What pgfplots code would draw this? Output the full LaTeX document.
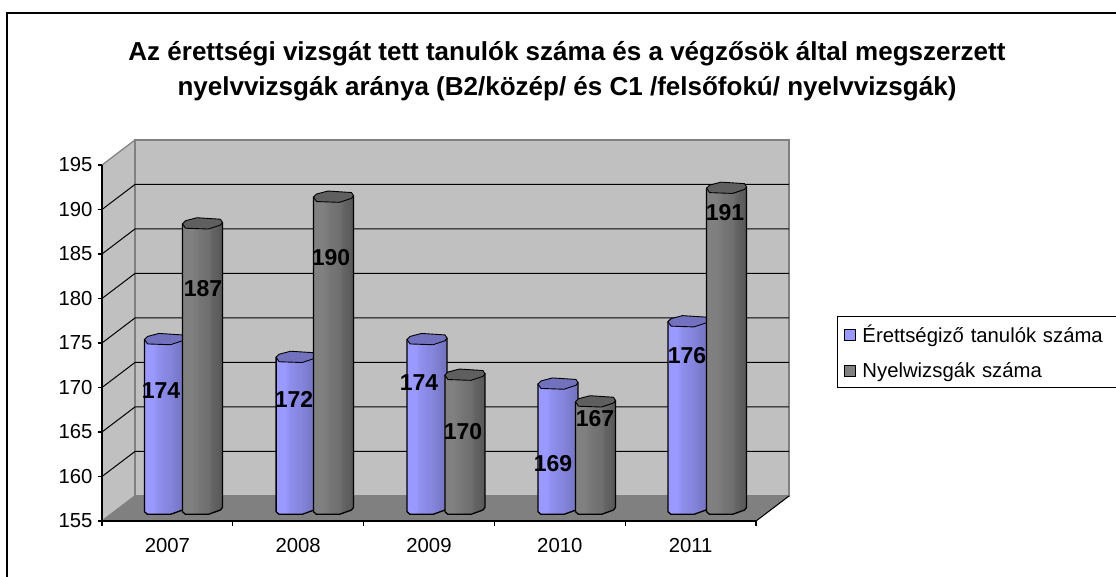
\documentclass[border=0pt]{standalone}
\usepackage{pgfplots}
\usepackage{pgfplotstable}
\usepackage{fontspec}
\setmainfont{Liberation Sans}
\pgfplotsset{compat=1.18}
\definecolor{wallc}{HTML}{C0C0C0}
\definecolor{floorc}{HTML}{808080}
\definecolor{edgec}{HTML}{808080}
\definecolor{blueser}{HTML}{9999FF}
\definecolor{greyser}{HTML}{808080}
\pgfdeclarehorizontalshading{bluebody}{100bp}{
 color(0bp)=(blueser); color(25bp)=(blueser); color(36bp)=(blueser); color(42bp)=(blueser!93!black);
 color(56bp)=(blueser!87!black); color(66bp)=(blueser!80!black); color(75bp)=(blueser!74!black); color(100bp)=(blueser!74!black)}
\pgfdeclarehorizontalshading{greybody}{100bp}{
 color(0bp)=(greyser); color(25bp)=(greyser); color(36bp)=(greyser); color(46bp)=(greyser!92!black);
 color(58bp)=(greyser!86!black); color(62bp)=(greyser!78!black); color(75bp)=(greyser!68!black); color(100bp)=(greyser!68!black)}
\pgfplotstableread{
u v t
-20 0 1
-20 -3.2 0
-17 -5.8 0
6 -5.8 0
18 -1.5 0
20 1.2 0
20 1.3 1
}\bodyshape
\pgfplotstableread{
u v
-20 0
-17 3
-5.5 6
18 4.5
20 1.3
18 -1.3
6 -5.3
-17 -4.5
}\capshape
\pgfplotstableread{
x y l
.451 169.7 174
.772 181.07 187
1.468 168.6 172
1.751 184.55 190
2.424 170.6 174
2.76 165 170
3.448 161.4 169
3.769 166.46 167
4.472 173.54 176
4.763 189.6 191
}\labeltable
\newcommand\cyl[4]{%
 \addplot[forget plot,draw=black,line width=1.3pt,line join=round,shading=#3] table[x expr={#1+\thisrow{u}/130.8},y expr={\thisrow{t}*(#2+1.4)+(1-\thisrow{t})*156.4+\thisrow{v}/8.9}] {\bodyshape} -- cycle;
 \addplot[forget plot,draw=black,line width=0.9pt,line join=round,fill=#4] table[x expr={#1+\thisrow{u}/130.8},y expr={#2+1.4+\thisrow{v}/8.9}] {\capshape} -- cycle;
}
\newcommand\grid[1]{\addplot[forget plot,black,line width=1pt] coordinates {(0,#1)(0.252,#1+2.81)(5.252,#1+2.81)};}
\begin{document}
\begin{tikzpicture}[x=1pt,y=1pt]
\path[use as bounding box,fill=white] (0,0) rectangle (1116,577);
\draw[black,line width=2pt] (6.5,-2) -- (6.5,564) -- (1118,564);
\node[align=center,font=\bfseries\fontsize{26}{35}\selectfont] at (567,505.5) {Az érettségi vizsgát tett tanulók száma és a végzősök által megszerzett\\nyelvvizsgák aránya (B2/közép/ és C1 /felsőfokú/ nyelvvizsgák)};
\begin{axis}[
 at={(102pt,56pt)},anchor=origin,
 scale only axis,width=654pt,height=356pt,
 xmin=0,xmax=5,ymin=155,ymax=195,
 clip=false,
 axis x line=bottom,axis y line=left,
 axis line style={-,black,line width=1.3pt},
 axis on top,
 xtick={0.5,1.5,2.5,3.5,4.5},
 xticklabels={2007,2008,2009,2010,2011},
 minor xtick={0,1,2,3,4,5},
 ytick={155,160,...,195},
 tick align=outside,
 major tick length=4.5pt,minor tick length=5pt,
 every major x tick/.append style={draw=none},
 minor tick style={black,line width=1.3pt},
 every y tick/.append style={black,line width=1.3pt},
 /pgf/number format/assume math mode=true,
 tick label style={font=\fontsize{20.3}{23}\selectfont},
 yticklabel style={xshift=-1.5pt},
 xticklabel style={yshift=-9pt},
 legend style={at={(axis cs:5.619,178.05)},anchor=north west,draw=black,line width=1pt,
  font=\fontsize{20.3}{23}\selectfont,text width=262pt,row sep=14pt,inner xsep=7pt,inner ysep=7pt,
  legend cell align=left},
]
\addplot[forget plot,fill=wallc,draw=edgec,line width=1.2pt] coordinates {(0,155)(0,195)(0.252,197.81)(0.252,157.81)} -- cycle;
\addplot[forget plot,fill=wallc,draw=edgec,line width=1.2pt] coordinates {(0.252,157.81)(0.252,197.81)(5.252,197.81)(5.252,157.81)} -- cycle;
\addplot[forget plot,fill=floorc,draw=edgec,line width=1pt] coordinates {(0,155)(5,155)(5.252,157.81)(0.252,157.81)} -- cycle;
\grid{160}\grid{165}\grid{170}\grid{175}\grid{180}\grid{185}\grid{190}
\addplot[forget plot,black,line width=1pt] coordinates {(5,155)(5.252,157.81)};
\cyl{.478}{174}{bluebody}{blueser!74!black}
\cyl{.768}{187}{greybody}{greyser!74!black}
\cyl{1.484}{172}{bluebody}{blueser!74!black}
\cyl{1.77}{190}{greybody}{greyser!74!black}
\cyl{2.485}{174}{bluebody}{blueser!74!black}
\cyl{2.775}{170}{greybody}{greyser!74!black}
\cyl{3.486}{169}{bluebody}{blueser!74!black}
\cyl{3.773}{167}{greybody}{greyser!74!black}
\cyl{4.480}{176}{bluebody}{blueser!74!black}
\cyl{4.775}{191}{greybody}{greyser!74!black}
\addplot[forget plot,only marks,mark=none,point meta=explicit symbolic,
 nodes near coords,nodes near coords align={center},
 every node near coord/.append style={font=\bfseries\fontsize{23}{25}\selectfont,inner sep=0pt}]
 table[x=x,y=y,meta=l] {\labeltable};
\addlegendimage{legend image code/.code={\draw[fill=blueser,draw=black,line width=1pt] (0pt,-5.5pt) rectangle (11pt,5.5pt);}}
\addlegendentry{\hspace*{4pt}Érettségiző tanulók száma}
\addlegendimage{legend image code/.code={\draw[fill=greyser,draw=black,line width=1pt] (0pt,-5.5pt) rectangle (11pt,5.5pt);}}
\addlegendentry{\hspace*{4pt}Nyelwizsgák száma}
\end{axis}
\end{tikzpicture}
\end{document}
